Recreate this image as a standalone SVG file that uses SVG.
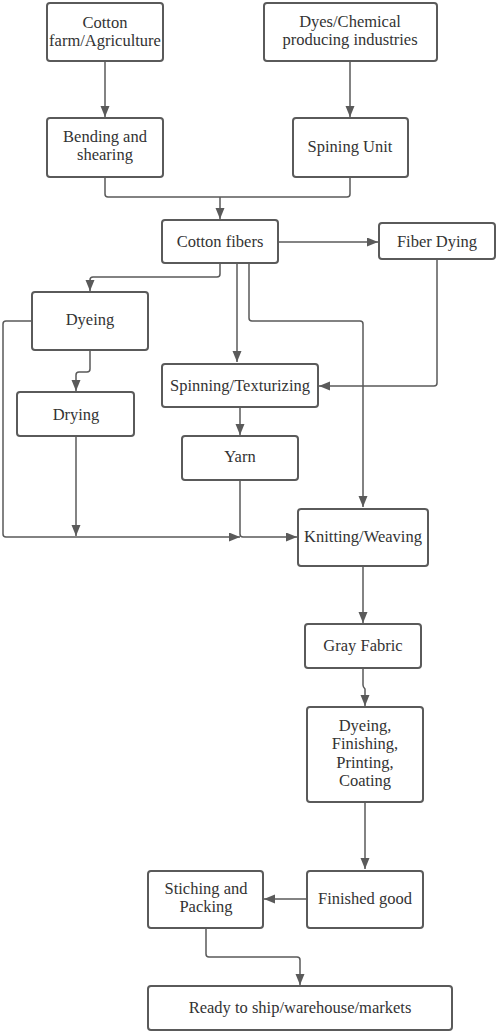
<svg xmlns="http://www.w3.org/2000/svg" width="498" height="1033" viewBox="0 0 498 1033">
<style>
.box{fill:#fff;stroke:#5a5a5a;stroke-width:2}
.lbl{font-family:"Liberation Serif",serif;font-size:16.5px;fill:#333;text-anchor:middle}
.con{fill:none;stroke:#5a5a5a;stroke-width:1.5}
</style>
<defs>
<marker id="ah" markerUnits="userSpaceOnUse" markerWidth="12" markerHeight="10" refX="11" refY="4.5" orient="auto">
<path d="M0,0 L11,4.5 L0,9 z" fill="#5a5a5a"/>
</marker>
</defs>
<rect width="498" height="1033" fill="#fff"/>
<g id="connectors">
<path class="con" d="M105,61 V117" marker-end="url(#ah)"/>
<path class="con" d="M350,61 V117" marker-end="url(#ah)"/>
<path class="con" d="M105,177 V194 Q105,197 108,197 H347 Q350,197 350,194 V177"/>
<path class="con" d="M220,197 V219" marker-end="url(#ah)"/>
<path class="con" d="M278,242 H378" marker-end="url(#ah)"/>
<path class="con" d="M220,263 V274 Q220,277 217,277 H93 Q90,277 90,280 V291" marker-end="url(#ah)"/>
<path class="con" d="M237,263 V362" marker-end="url(#ah)"/>
<path class="con" d="M249,263 V318 Q249,321 252,321 H360 Q363,321 363,324 V507" marker-end="url(#ah)"/>
<path class="con" d="M437,259 V383 Q437,386 434,386 H319" marker-end="url(#ah)"/>
<path class="con" d="M32,321 H6 Q3,321 3,324 V534 Q3,537 6,537 H240" marker-end="url(#ah)"/>
<path class="con" d="M90,350 V369 Q90,372 87,372 H79 Q76,372 76,375 V391" marker-end="url(#ah)"/>
<path class="con" d="M76,436 V536" marker-end="url(#ah)"/>
<path class="con" d="M240,407 V435" marker-end="url(#ah)"/>
<path class="con" d="M240,480 V534 Q240,537 243,537 H297" marker-end="url(#ah)"/>
<path class="con" d="M363,566 V623" marker-end="url(#ah)"/>
<path class="con" d="M363,668 V685 Q363,687 365,689 V706" marker-end="url(#ah)"/>
<path class="con" d="M365,802 V869" marker-end="url(#ah)"/>
<path class="con" d="M307,899 H264" marker-end="url(#ah)"/>
<path class="con" d="M206,928 V954 Q206,957 209,957 H297 Q300,957 300,960 V985" marker-end="url(#ah)"/>
</g>
<g id="cotton-farm"><rect class="box" x="47" y="3" width="116" height="58" rx="3"/><text class="lbl" x="105" y="28">Cotton</text><text class="lbl" x="105" y="46">farm/Agriculture</text></g>
<g id="dyes-chemical"><rect class="box" x="264" y="3" width="173" height="58" rx="3"/><text class="lbl" x="350" y="27">Dyes/Chemical</text><text class="lbl" x="350" y="45">producing industries</text></g>
<g id="bending"><rect class="box" x="47" y="118" width="116" height="59" rx="3"/><text class="lbl" x="105" y="142">Bending and</text><text class="lbl" x="105" y="160">shearing</text></g>
<g id="spining-unit"><rect class="box" x="293" y="118" width="115" height="59" rx="3"/><text class="lbl" x="350" y="152">Spining Unit</text></g>
<g id="cotton-fibers"><rect class="box" x="162" y="220" width="116" height="43" rx="3"/><text class="lbl" x="220" y="247">Cotton fibers</text></g>
<g id="fiber-dying"><rect class="box" x="379" y="223" width="116" height="36" rx="3"/><text class="lbl" x="437" y="247">Fiber Dying</text></g>
<g id="dyeing"><rect class="box" x="32" y="292" width="116" height="58" rx="3"/><text class="lbl" x="90" y="325">Dyeing</text></g>
<g id="spinning"><rect class="box" x="162" y="364" width="156" height="43" rx="3"/><text class="lbl" x="240" y="391">Spinning/Texturizing</text></g>
<g id="drying"><rect class="box" x="17" y="392" width="117" height="44" rx="3"/><text class="lbl" x="76" y="420">Drying</text></g>
<g id="yarn"><rect class="box" x="182" y="436" width="116" height="44" rx="3"/><text class="lbl" x="240" y="462">Yarn</text></g>
<g id="knitting"><rect class="box" x="298" y="509" width="130" height="57" rx="3"/><text class="lbl" x="363" y="542">Knitting/Weaving</text></g>
<g id="gray-fabric"><rect class="box" x="305" y="624" width="116" height="44" rx="3"/><text class="lbl" x="363" y="651">Gray Fabric</text></g>
<g id="dyeing-finishing"><rect class="box" x="307" y="707" width="116" height="95" rx="3"/><text class="lbl" x="365" y="731">Dyeing,</text><text class="lbl" x="365" y="749">Finishing,</text><text class="lbl" x="365" y="768">Printing,</text><text class="lbl" x="365" y="786">Coating</text></g>
<g id="finished-good"><rect class="box" x="307" y="871" width="116" height="57" rx="3"/><text class="lbl" x="365" y="904">Finished good</text></g>
<g id="stiching"><rect class="box" x="148" y="871" width="115" height="57" rx="3"/><text class="lbl" x="206" y="894">Stiching and</text><text class="lbl" x="206" y="912">Packing</text></g>
<g id="ready"><rect class="box" x="148" y="986" width="304" height="44" rx="3"/><text class="lbl" x="300" y="1013">Ready to ship/warehouse/markets</text></g>
</svg>
